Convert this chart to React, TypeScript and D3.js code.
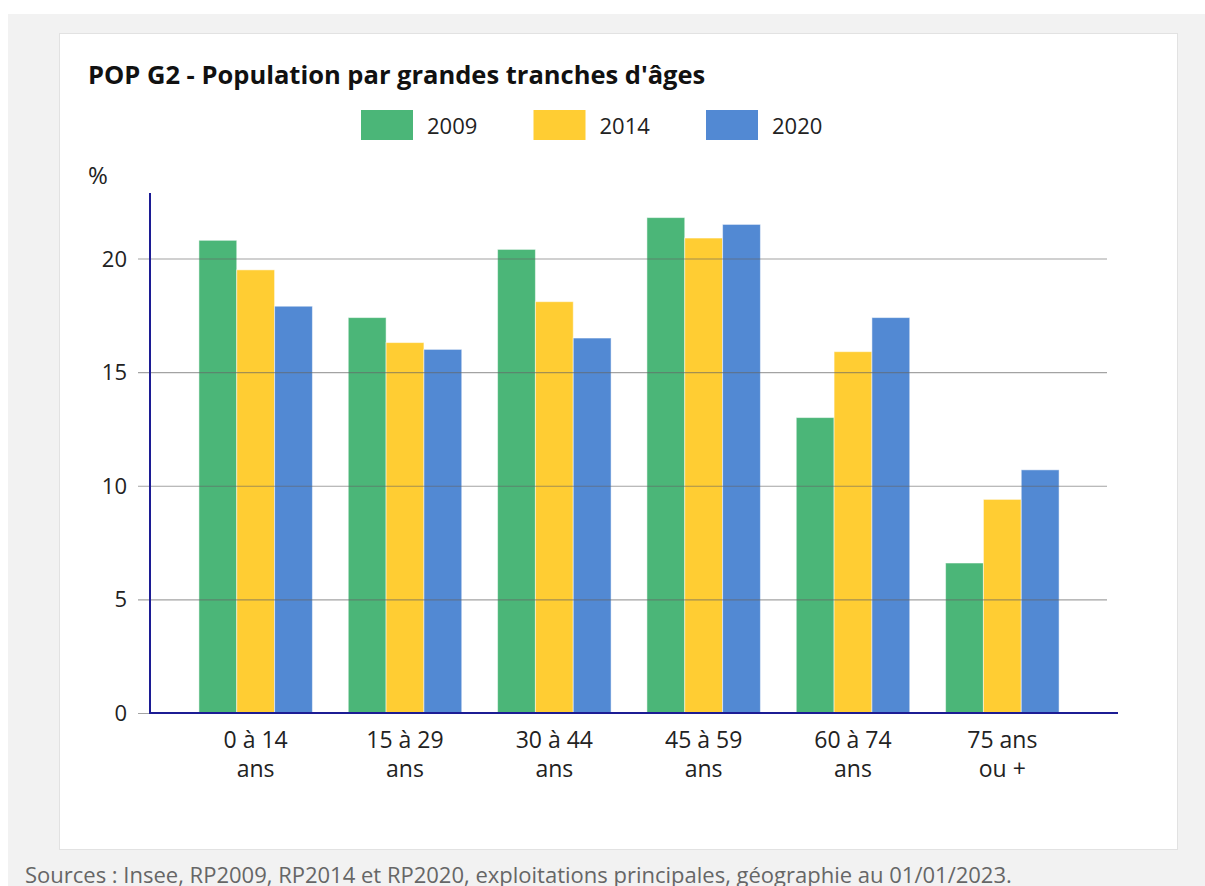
import React, { useEffect, useRef } from "react";
import * as d3 from "d3";

const categories = ["0 à 14|ans", "15 à 29|ans", "30 à 44|ans", "45 à 59|ans", "60 à 74|ans", "75 ans|ou +"];
const years = ["2009", "2014", "2020"];
const values2009 = [20.8, 17.4, 20.4, 21.8, 13.0, 6.6];
const values2014 = [19.5, 16.3, 18.1, 20.9, 15.9, 9.4];
const values2020 = [17.9, 16.0, 16.5, 21.5, 17.4, 10.7];
const yTicks = [0, 5, 10, 15, 20];
const colors = ["#4bb678", "#ffcd33", "#5289d3"];

const title = "POP G2 - Population par grandes tranches d'âges";
const source = "Sources : Insee, RP2009, RP2014 et RP2020, exploitations principales, géographie au 01/01/2023.";

export default function App() {
    const chartRef = useRef<SVGSVGElement>(null);

    useEffect(() => {
        const svg = d3.select(chartRef.current);
        svg.selectAll("*").remove();
        const font = "'Open Sans', sans-serif";

        // page background + card
        svg.append("rect").attr("x", 8).attr("y", 14).attr("width", 1205).attr("height", 886).attr("fill", "#f2f2f2");
        svg.append("rect")
            .attr("x", 59.5).attr("y", 33.5).attr("width", 1118).attr("height", 816)
            .attr("fill", "#fff").attr("stroke", "#e2e2e2");

        svg.append("text")
            .attr("x", 88).attr("y", 84)
            .attr("font-family", font).attr("font-weight", 700).attr("font-size", 25.5)
            .attr("fill", "#111")
            .text(title);

        // legend
        const legend = svg.append("g").selectAll("g")
            .data(years)
            .enter().append("g")
            .attr("transform", (d, i) => `translate(${361 + i * 172.5},110)`);
        legend.append("rect").attr("width", 52).attr("height", 30).attr("fill", (d, i) => colors[i]);
        legend.append("text")
            .attr("x", 66).attr("y", 23.5)
            .attr("font-family", font).attr("font-size", 22).attr("fill", "#222")
            .text(d => d);

        const series = [values2009, values2014, values2020];

        const x0 = d3.scaleBand<string>()
            .domain(categories)
            .range([181, 1077])
            .paddingInner(0.24)
            .paddingOuter(0.12);
        const x1 = d3.scaleBand<string>()
            .domain(years)
            .range([0, x0.bandwidth()]);
        const y = d3.scaleLinear().domain([0, 20]).range([713, 258.5]);

        svg.append("text")
            .attr("x", 88).attr("y", 184)
            .attr("font-family", font).attr("font-size", 24).attr("fill", "#222")
            .text("%");

        // bars
        svg.append("g")
            .selectAll("g")
            .data(series)
            .enter().append("g")
            .attr("fill", (d, i) => colors[i])
            .attr("transform", (d, i) => `translate(${x1(years[i])},0)`)
            .selectAll("rect")
            .data(d => d)
            .enter().append("rect")
            .attr("x", (d, i) => x0(categories[i]) as number)
            .attr("y", d => y(d))
            .attr("width", x1.bandwidth())
            .attr("height", d => y(0) - y(d))
            .attr("stroke", "rgba(255,255,255,0.5)")
            .attr("stroke-width", 1);

        // grid lines + y labels
        const grid = svg.append("g").selectAll("g")
            .data(yTicks)
            .enter().append("g");
        grid.append("line")
            .attr("x1", 138).attr("x2", 1107)
            .attr("y1", d => y(d) + 0.5).attr("y2", d => y(d) + 0.5)
            .attr("stroke", "#666").attr("stroke-opacity", 0.6).attr("stroke-width", 1.2);
        grid.append("text")
            .attr("x", 127).attr("y", d => y(d) + 8)
            .attr("text-anchor", "end")
            .attr("font-family", font).attr("font-size", 22).attr("fill", "#222")
            .text(d => d);

        // axes
        svg.append("line")
            .attr("x1", 150).attr("x2", 150).attr("y1", 193).attr("y2", 714)
            .attr("stroke", "#1c1c94").attr("stroke-width", 2);
        svg.append("line")
            .attr("x1", 150).attr("x2", 1118).attr("y1", 713).attr("y2", 713)
            .attr("stroke", "#1c1c94").attr("stroke-width", 2);

        // category labels
        const labels = svg.append("g").selectAll("text")
            .data(categories)
            .enter().append("text")
            .attr("x", d => (x0(d) as number) + x0.bandwidth() / 2)
            .attr("y", 748)
            .attr("text-anchor", "middle")
            .attr("font-family", font).attr("font-size", 23).attr("fill", "#222");
        labels.selectAll("tspan")
            .data(d => d.split("|"))
            .enter().append("tspan")
            .attr("x", function () { return d3.select(this.parentNode as SVGTextElement).attr("x"); })
            .attr("dy", (d, i) => i === 0 ? 0 : 29)
            .text(d => d);

        svg.append("text")
            .attr("x", 25).attr("y", 883)
            .attr("font-family", font).attr("font-size", 22).attr("fill", "#666")
            .text(source);
    }, []);

    return (
        <svg
            ref={chartRef}
            width={1205}
            height={886}
            style={{ position: "absolute", left: 0, top: 0 }}
        ></svg>
    );
}
